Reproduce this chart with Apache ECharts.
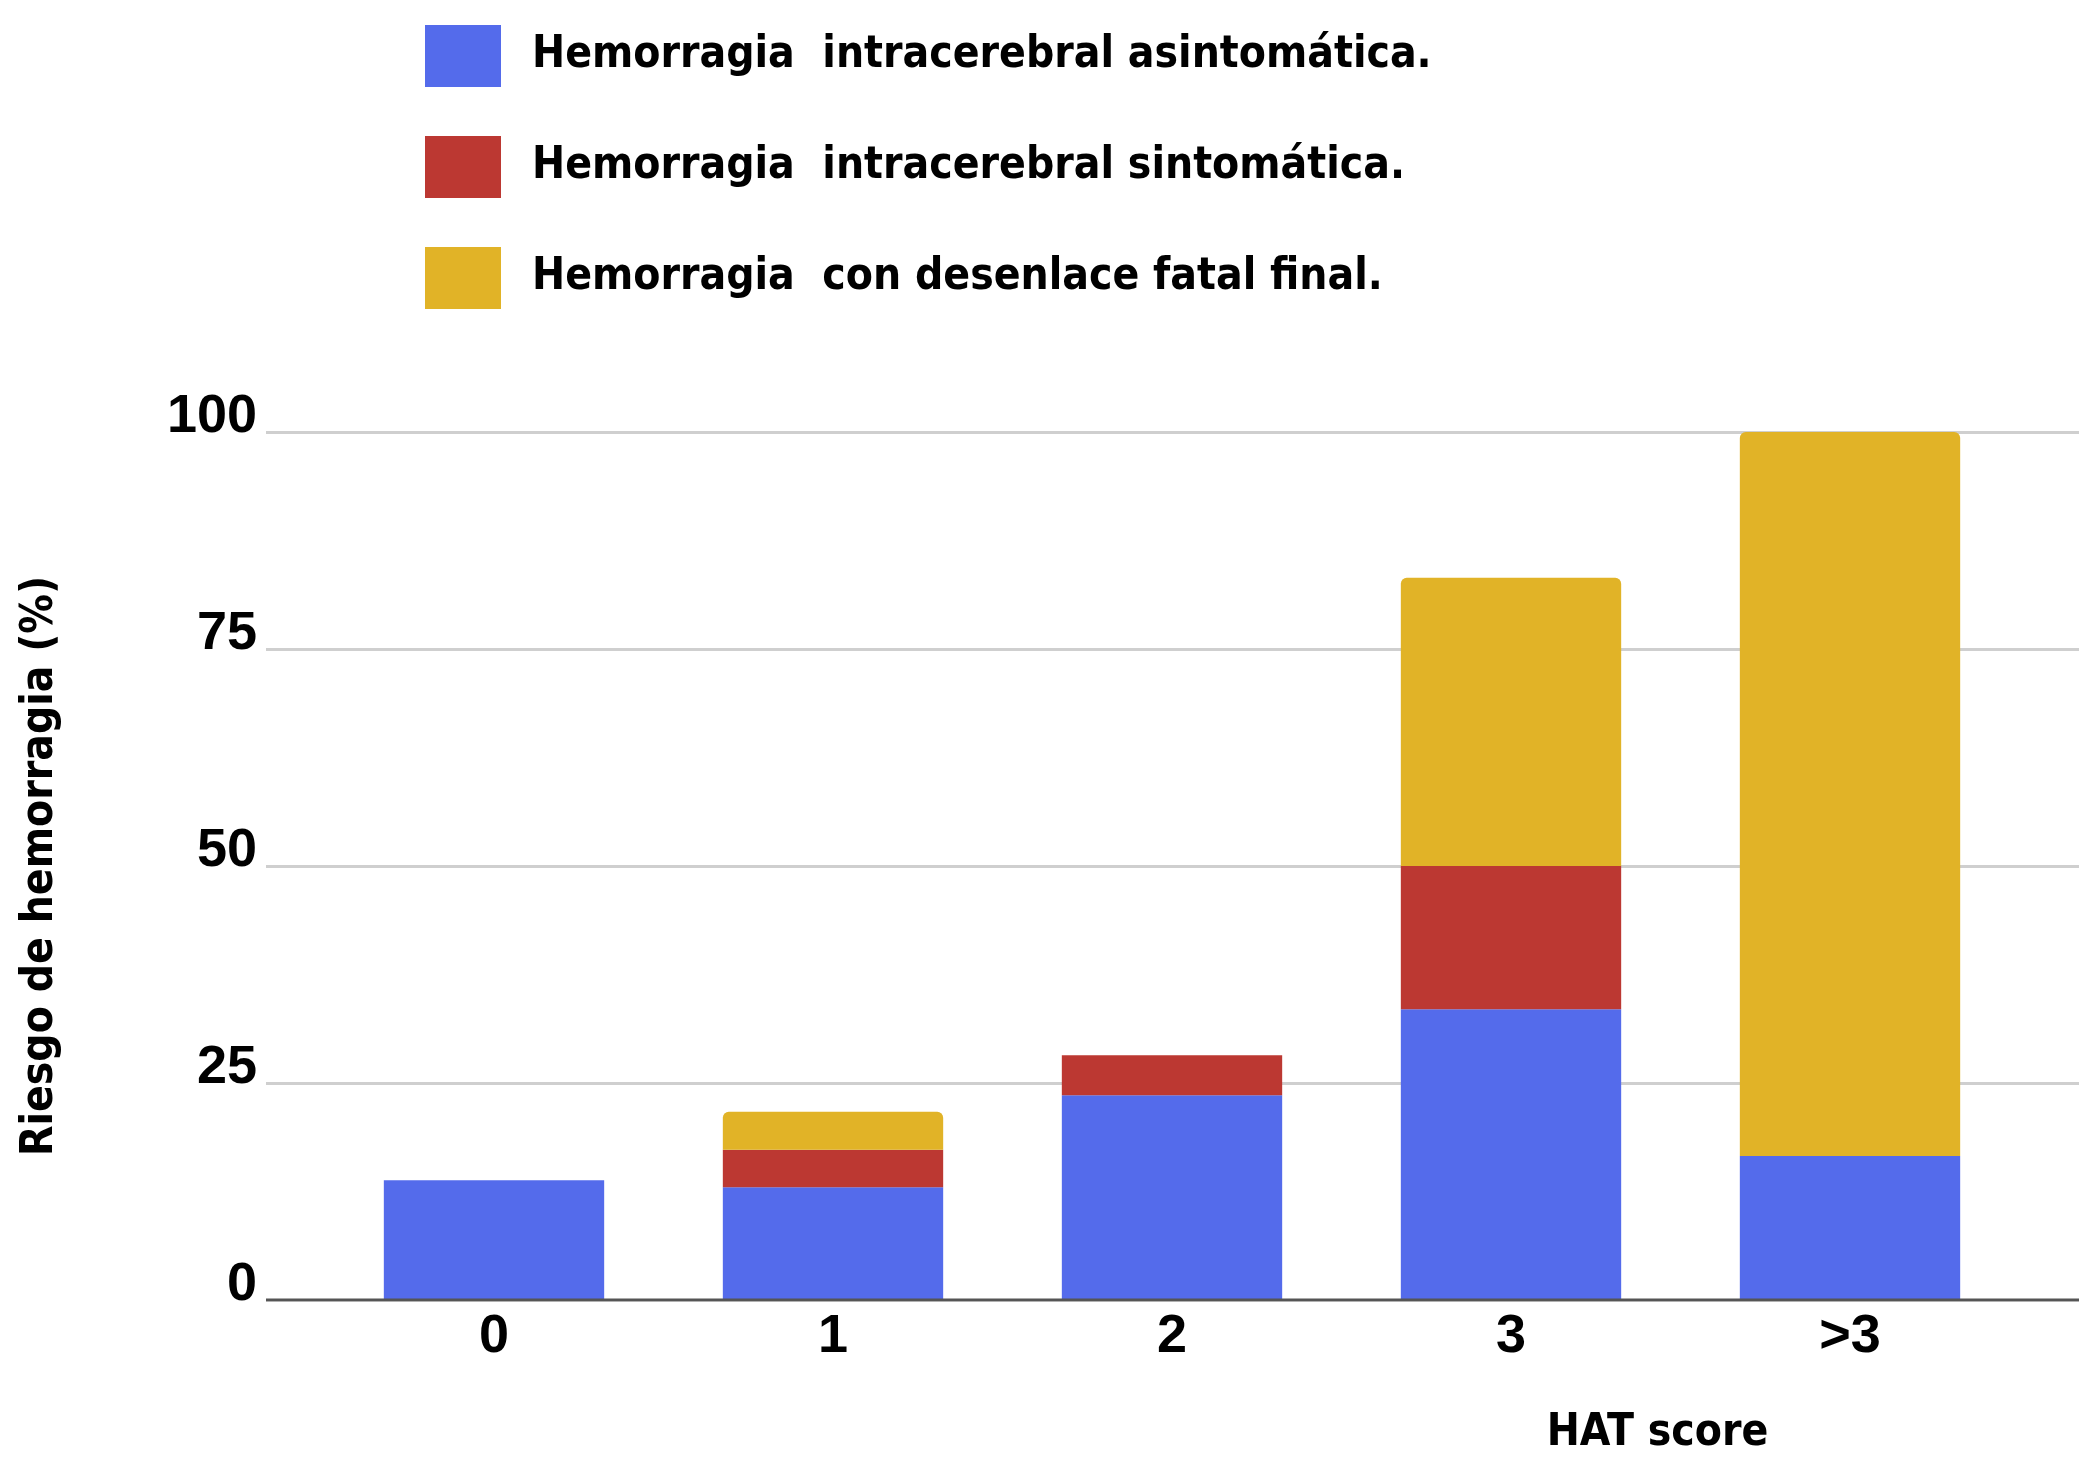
<!DOCTYPE html>
<html>
<head>
<meta charset="utf-8">
<script src="https://cdn.jsdelivr.net/npm/echarts@6/dist/echarts.min.js"></script>
<style>
html,body{margin:0;padding:0;background:#fff;}
#chart{width:2091px;height:1469px;}
</style>
</head>
<body>
<div id="chart"></div>
<script>
const categories = ['0', '1', '2', '3', '>3'];
const asintomatica = [13.8, 13.0, 23.6, 33.5, 16.6];
const sintomatica = [null, 4.3, 4.6, 16.5, null];
const fatal = [null, 4.4, null, 33.2, 83.4];
const yTicks = [0, 25, 50, 75, 100];
const seriesNames = [
  'Hemorragia  intracerebral asintomática.',
  'Hemorragia  intracerebral sintomática.',
  'Hemorragia  con desenlace fatal final.'
];
const colors = ['#546BEB', '#BC3832', '#E1B327'];

const narrow = "'DejaVu Sans Condensed', 'Liberation Sans', sans-serif";
const wide = "'Liberation Sans', Arial, sans-serif";

const chart = echarts.init(document.getElementById('chart'), null, {renderer: 'canvas'});
chart.setOption({
  backgroundColor: '#ffffff',
  animation: false,
  color: colors,
  legend: {
    orient: 'vertical',
    left: 420,
    top: 20,
    itemWidth: 76,
    itemHeight: 62,
    itemGap: 49,
    icon: 'rect',
    selectedMode: false,
    data: seriesNames,
    textStyle: {
      fontFamily: narrow,
      fontWeight: 'bold',
      fontSize: 44,
      color: '#000',
      padding: [6, 0, 0, 26]
    }
  },
  grid: [
    {left: 266, right: 12, top: 432, bottom: 169, containLabel: false},
    {left: 324.5, right: 71.5, top: 432, bottom: 169, containLabel: false}
  ],
  xAxis: [
    {
      gridIndex: 0, type: 'value', min: 0, max: 1,
      axisLine: {show: false}, axisTick: {show: false},
      axisLabel: {show: false}, splitLine: {show: false}
    },
    {
      gridIndex: 1, type: 'category', data: categories,
      axisLine: {show: false},
      axisTick: {show: false},
      axisLabel: {
        margin: 10,
        fontFamily: wide, fontWeight: 'bold', fontSize: 54, color: '#000'
      },
      name: 'HAT score',
      nameLocation: 'end',
      nameGap: -362,
      nameTextStyle: {
        fontFamily: narrow, fontWeight: 'bold', fontSize: 44, color: '#000',
        align: 'center', verticalAlign: 'top', padding: [112, 0, 0, 0]
      }
    }
  ],
  yAxis: [
    {
      gridIndex: 0, type: 'value', min: 0, max: 100, interval: 25,
      axisLine: {show: false}, axisTick: {show: false},
      splitLine: {lineStyle: {color: '#cfcfcf', width: 3}},
      axisLabel: {
        margin: 9,
        fontFamily: wide, fontWeight: 'bold', fontSize: 54, color: '#000',
        verticalAlign: 'bottom', lineHeight: 30,
        formatter: function (v) { return yTicks.indexOf(v) >= 0 ? String(v) : ''; }
      },
      name: 'Riesgo de hemorragia (%)',
      nameLocation: 'middle',
      nameRotate: 90,
      nameGap: 198,
      nameTextStyle: {
        fontFamily: narrow, fontWeight: 'bold', fontSize: 44, color: '#000',
        lineHeight: 54
      }
    },
    {
      gridIndex: 1, type: 'value', min: 0, max: 100, interval: 25,
      axisLine: {show: false}, axisTick: {show: false},
      axisLabel: {show: false}, splitLine: {show: false}
    }
  ],
  series: [
    {
      name: seriesNames[0], type: 'bar', stack: 'total',
      xAxisIndex: 1, yAxisIndex: 1, barWidth: '65%',
      data: asintomatica, itemStyle: {color: colors[0]}
    },
    {
      name: seriesNames[1], type: 'bar', stack: 'total',
      xAxisIndex: 1, yAxisIndex: 1, barWidth: '65%',
      data: sintomatica, itemStyle: {color: colors[1]}
    },
    {
      name: seriesNames[2], type: 'bar', stack: 'total',
      xAxisIndex: 1, yAxisIndex: 1, barWidth: '65%',
      data: fatal, itemStyle: {color: colors[2], borderRadius: [6, 6, 0, 0]}
    },
    {
      type: 'line', xAxisIndex: 0, yAxisIndex: 0,
      data: [[0, 0], [1, 0]], symbol: 'none', silent: true,
      lineStyle: {color: '#555555', width: 3}, z: 5
    }
  ]
});
</script>
</body>
</html>
